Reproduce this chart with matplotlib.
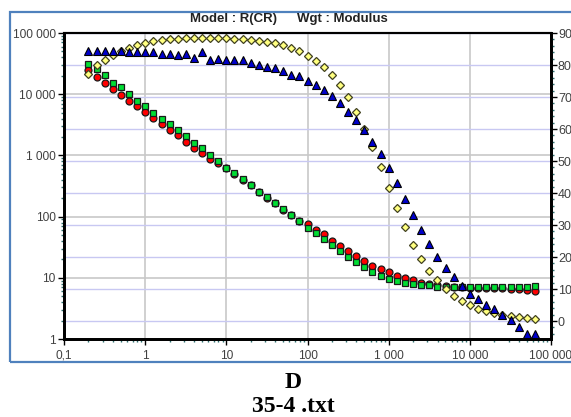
import matplotlib
matplotlib.use('Agg')
import matplotlib.pyplot as plt
import matplotlib.transforms as mtransforms
from matplotlib.patches import Rectangle
from matplotlib.ticker import LogLocator, MultipleLocator, NullFormatter

plt.rcParams['font.family'] = ['Liberation Sans', 'DejaVu Sans']

# frequency (Hz), 10 points per decade
freq = [0.2, 0.252, 0.317, 0.399, 0.502, 0.632, 0.796, 1.0, 1.26, 1.59,
        2.0, 2.52, 3.17, 3.99, 5.02, 6.32, 7.96, 10.0, 12.6, 15.9,
        20.0, 25.2, 31.7, 39.9, 50.2, 63.2, 79.6, 100, 126, 159,
        200, 252, 317, 399, 502, 632, 796, 1000, 1262, 1589,
        2000, 2518, 3170, 3991, 5024, 6325, 7962, 10024, 12619, 15887,
        20000, 25179, 31698, 39905, 50238, 63246]

# modulus (left axis, log)
mod_red = [24500, 19100, 15100, 12300, 9770, 7760, 6460, 5130, 4070, 3240,
           2630, 2140, 1660, 1320, 1100, 871, 741, 617, 490, 398,
           331, 251, 204, 166, 129, 105, 85.1, 75.7, 60.4, 51.3,
           40.5, 33.5, 27.7, 23.0, 19.1, 15.8, 14.1, 12.4, 10.8, 10.0,
           9.2, 8.3, 7.8, 7.5, 7.3, 7.2, 7.0, 6.9, 6.9, 6.7,
           6.7, 6.7, 6.6, 6.5, 6.3, 6.1]
mod_green = [30900, 25700, 20400, 15500, 13200, 10000, 7760, 6310, 4900, 3980,
             3240, 2570, 2090, 1620, 1320, 1000, 813, 631, 525, 407,
             331, 255, 207, 169, 132, 106, 84.7, 64.3, 53.3, 42.5,
             34.0, 27.4, 21.6, 18.1, 15.2, 12.6, 10.8, 9.7, 8.9, 8.3,
             7.9, 7.6, 7.5, 7.2, 7.2, 7.2, 7.2, 7.2, 7.2, 7.2,
             7.2, 7.2, 7.2, 7.2, 7.2, 7.3]

# phase (right axis)
phase_yellow = [77.3, 79.9, 81.7, 83.1, 84.3, 85.4, 86.2, 87.0, 87.4, 87.8,
                88.0, 88.1, 88.3, 88.3, 88.3, 88.3, 88.3, 88.3, 88.1, 88.0,
                87.8, 87.6, 87.3, 86.8, 86.2, 85.3, 84.3, 82.7, 81.3, 79.4,
                76.8, 73.8, 70.0, 65.4, 60.0, 54.3, 48.1, 41.5, 35.4, 29.4,
                23.9, 19.4, 15.7, 12.7, 10.0, 7.7, 6.3, 5.0, 3.9, 3.1,
                2.5, 1.8, 1.5, 1.25, 1.0, 0.7]
phase_blue = [84.5, 84.5, 84.5, 84.5, 84.3, 84.1, 84.1, 84.1, 84.1, 83.5,
              83.5, 83.2, 83.5, 82.2, 84.0, 81.5, 81.9, 81.5, 81.5, 81.5,
              80.6, 79.9, 79.3, 79.0, 78.0, 77.0, 76.5, 75.0, 73.9, 72.1,
              70.2, 68.0, 65.3, 62.9, 59.6, 55.8, 52.3, 47.8, 43.1, 38.0,
              33.1, 28.4, 24.1, 19.9, 16.5, 13.7, 10.9, 8.6, 6.9, 5.0,
              3.75, 1.9, 0.3, -1.8, -4.0, -4.0]

x_ticks = [0.1, 1, 10, 100, 1000, 10000, 100000]
x_labels = ['0,1', '1', '10', '100', '1 000', '10 000', '100 000']
left_ticks = [1, 10, 100, 1000, 10000, 100000]
left_labels = ['1', '10', '100', '1 000', '10 000', '100 000']
right_ticks = [0, 10, 20, 30, 40, 50, 60, 70, 80, 90]

minor_col = '#2f6f6f'
label_col = '#404040'

fig = plt.figure(figsize=(5.71, 4.17), dpi=100)
ax = fig.add_axes([64 / 571, 1 - 339 / 417, 487 / 571, 306 / 417])
axr = ax.twinx()

# frame round the chart
fig.patches.append(Rectangle((10 / 571, 1 - 362 / 417), 1.0, 350 / 417,
                             transform=fig.transFigure, fill=False,
                             edgecolor='#4f81bd', lw=1.6))

ax.set_xscale('log')
ax.set_yscale('log')
ax.set_axisbelow(True)
ax.grid(True, which='major', color='#c8c8c8', lw=1.2)

# right axis grid, drawn on the back axes
trans = mtransforms.blended_transform_factory(ax.transAxes, axr.transData)
for t in right_ticks:
    ax.plot([0, 1], [t, t], transform=trans, color='#c8c8f2', lw=1, zorder=0.8)

ax.plot(freq, mod_red, 'o', ms=5.0, mfc='#ff0000', mec='#1a1a1a', mew=0.9, zorder=3)
ax.plot(freq, mod_green, 's', ms=4.5, mfc='#00dd33', mec='#1a1a1a', mew=0.9, zorder=4)
axr.plot(freq, phase_yellow, 'D', ms=4.0, mfc='#ffff80', mec='#404020', mew=0.9, zorder=3)
axr.plot(freq, phase_blue, '^', ms=6.0, mfc='#0000cc', mec='#000000', mew=0.8, zorder=4)

ax.set_xlim(0.1, 1e5)
ax.set_ylim(1, 1e5)
axr.set_ylim(-5.6, 90)

ax.set_xticks(x_ticks, x_labels)
ax.set_yticks(left_ticks, left_labels)
ax.xaxis.set_minor_locator(LogLocator(base=10, subs=range(2, 10)))
ax.yaxis.set_minor_locator(LogLocator(base=10, subs=range(2, 10)))
ax.xaxis.set_minor_formatter(NullFormatter())
ax.yaxis.set_minor_formatter(NullFormatter())
ax.tick_params(which='major', direction='out', length=4, width=1, color='black',
               labelsize=8.6, labelcolor=label_col)
ax.tick_params(axis='x', which='major', pad=3.6)
ax.tick_params(axis='y', which='major', pad=2)
ax.tick_params(which='minor', direction='out', length=2, width=1, color=minor_col)

axr.set_yticks(right_ticks)
axr.yaxis.set_minor_locator(MultipleLocator(2))
axr.tick_params(axis='y', which='major', direction='out', length=4, width=1,
                color='black', labelsize=9, labelcolor=label_col, pad=1)
axr.tick_params(axis='y', which='minor', direction='out', length=2, width=1,
                color=minor_col)

for a in (ax, axr):
    for side in ('left', 'bottom', 'right'):
        a.spines[side].set_linewidth(2)
        a.spines[side].set_color('black')
    a.spines['top'].set_linewidth(1.5)

fig.text(190 / 571, 1 - 19 / 417, 'Model : R(CR)', ha='left', va='center',
         fontsize=9.5, fontweight='bold', color='#222222')
fig.text(297 / 571, 1 - 19 / 417, 'Wgt : Modulus', ha='left', va='center',
         fontsize=9.5, fontweight='bold', color='#222222')

fig.text(293 / 571, 1 - 382 / 417, 'D', ha='center', va='center', fontsize=17,
         fontweight='bold', family='Liberation Serif')
fig.text(293 / 571, 1 - 407 / 417, '35-4 .txt', ha='center', va='center', fontsize=17,
         fontweight='bold', family='Liberation Serif')

fig.savefig('out.png', dpi=100)
